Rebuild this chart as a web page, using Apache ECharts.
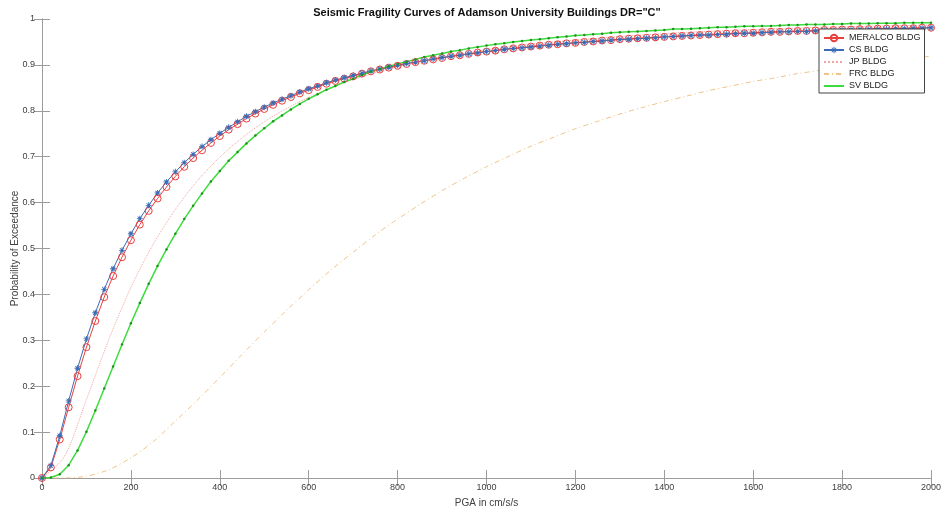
<!DOCTYPE html>
<html>
<head>
<meta charset="utf-8">
<title>Seismic Fragility Curves</title>
<script src="https://cdn.jsdelivr.net/npm/echarts/dist/echarts.min.js"></script>
<style>
  html, body { margin: 0; padding: 0; background: #fff; }
  #chart { width: 944px; height: 515px; }
</style>
</head>
<body>
<div id="chart"></div>
<script>
// PGA values (cm/s/s) where the marked curves were sampled
const pgaFine = [
  0, 20, 40, 60, 80, 100, 120, 140, 160, 180,
  200, 220, 240, 260, 280, 300, 320, 340, 360, 380,
  400, 420, 440, 460, 480, 500, 520, 540, 560, 580,
  600, 620, 640, 660, 680, 700, 720, 740, 760, 780,
  800, 820, 840, 860, 880, 900, 920, 940, 960, 980,
  1000, 1020, 1040, 1060, 1080, 1100, 1120, 1140, 1160, 1180,
  1200, 1220, 1240, 1260, 1280, 1300, 1320, 1340, 1360, 1380,
  1400, 1420, 1440, 1460, 1480, 1500, 1520, 1540, 1560, 1580,
  1600, 1620, 1640, 1660, 1680, 1700, 1720, 1740, 1760, 1780,
  1800, 1820, 1840, 1860, 1880, 1900, 1920, 1940, 1960, 1980,
  2000
];
// coarser sampling for the plain dotted / dash-dot curves
const pgaCoarse = [
  0, 50, 100, 150, 200, 250, 300, 350, 400, 450,
  500, 550, 600, 650, 700, 750, 800, 850, 900, 950,
  1000, 1050, 1100, 1150, 1200, 1250, 1300, 1350, 1400, 1450,
  1500, 1550, 1600, 1650, 1700, 1750, 1800, 1850, 1900, 1950,
  2000
];

const meralco = [
  0, 0.023, 0.084, 0.154, 0.222, 0.285, 0.342, 0.394, 0.440, 0.481,
  0.518, 0.552, 0.582, 0.609, 0.634, 0.657, 0.678, 0.697, 0.714, 0.730,
  0.745, 0.759, 0.771, 0.783, 0.794, 0.804, 0.813, 0.822, 0.830, 0.838,
  0.845, 0.852, 0.859, 0.865, 0.870, 0.875, 0.881, 0.886, 0.890, 0.894,
  0.898, 0.902, 0.906, 0.909, 0.912, 0.915, 0.919, 0.921, 0.924, 0.927,
  0.929, 0.931, 0.934, 0.936, 0.938, 0.940, 0.942, 0.944, 0.945, 0.947,
  0.948, 0.950, 0.951, 0.953, 0.954, 0.956, 0.957, 0.958, 0.959, 0.960,
  0.961, 0.962, 0.963, 0.964, 0.965, 0.966, 0.967, 0.968, 0.969, 0.969,
  0.970, 0.971, 0.972, 0.972, 0.973, 0.974, 0.974, 0.975, 0.976, 0.976,
  0.977, 0.977, 0.978, 0.978, 0.979, 0.979, 0.980, 0.980, 0.980, 0.981,
  0.981
];

const cs = [
  0, 0.027, 0.092, 0.168, 0.239, 0.303, 0.360, 0.411, 0.456, 0.496,
  0.532, 0.565, 0.594, 0.621, 0.645, 0.667, 0.687, 0.705, 0.722, 0.737,
  0.751, 0.764, 0.776, 0.788, 0.798, 0.808, 0.817, 0.825, 0.833, 0.841,
  0.848, 0.854, 0.861, 0.867, 0.872, 0.877, 0.882, 0.887, 0.891, 0.895,
  0.899, 0.903, 0.906, 0.909, 0.913, 0.916, 0.919, 0.921, 0.924, 0.926,
  0.929, 0.931, 0.934, 0.936, 0.937, 0.939, 0.941, 0.943, 0.945, 0.946,
  0.948, 0.949, 0.951, 0.952, 0.954, 0.955, 0.956, 0.957, 0.958, 0.959,
  0.961, 0.962, 0.963, 0.964, 0.965, 0.965, 0.966, 0.967, 0.968, 0.969,
  0.969, 0.970, 0.971, 0.972, 0.972, 0.973, 0.973, 0.974, 0.975, 0.975,
  0.976, 0.976, 0.977, 0.977, 0.978, 0.978, 0.979, 0.979, 0.980, 0.980,
  0.981
];

const jp = [
  0, 0.046, 0.171, 0.301, 0.415, 0.509, 0.585, 0.648, 0.699, 0.741,
  0.776, 0.805, 0.829, 0.850, 0.868, 0.883, 0.896, 0.907, 0.917, 0.925,
  0.933, 0.939, 0.945, 0.950, 0.954, 0.958, 0.962, 0.965, 0.968, 0.971,
  0.973, 0.975, 0.977, 0.979, 0.980, 0.982, 0.983, 0.984, 0.985, 0.986,
  0.987
];

const frc = [
  0, 0.000, 0.004, 0.018, 0.044, 0.079, 0.124, 0.170, 0.219, 0.269,
  0.318, 0.365, 0.410, 0.453, 0.492, 0.530, 0.564, 0.596, 0.626, 0.653,
  0.678, 0.701, 0.723, 0.742, 0.761, 0.777, 0.793, 0.807, 0.820, 0.832,
  0.844, 0.854, 0.864, 0.872, 0.881, 0.888, 0.895, 0.902, 0.908, 0.914,
  0.919
];

const sv = [
  0, 0.001, 0.008, 0.028, 0.060, 0.101, 0.147, 0.195, 0.243, 0.291,
  0.337, 0.381, 0.423, 0.462, 0.498, 0.532, 0.564, 0.593, 0.620, 0.646,
  0.669, 0.691, 0.710, 0.729, 0.746, 0.762, 0.777, 0.790, 0.803, 0.815,
  0.826, 0.836, 0.846, 0.854, 0.863, 0.870, 0.878, 0.885, 0.891, 0.897,
  0.902, 0.907, 0.912, 0.917, 0.921, 0.925, 0.929, 0.932, 0.936, 0.939,
  0.942, 0.945, 0.947, 0.950, 0.952, 0.954, 0.956, 0.958, 0.960, 0.962,
  0.964, 0.965, 0.967, 0.968, 0.970, 0.971, 0.972, 0.973, 0.974, 0.975,
  0.976, 0.978, 0.978, 0.979, 0.980, 0.981, 0.982, 0.982, 0.983, 0.984,
  0.984, 0.985, 0.985, 0.986, 0.987, 0.987, 0.988, 0.988, 0.988, 0.989,
  0.989, 0.990, 0.990, 0.990, 0.991, 0.991, 0.991, 0.992, 0.992, 0.992,
  0.992
];

const seriesNames = ["MERALCO BLDG", "CS BLDG", "JP BLDG", "FRC BLDG", "SV BLDG"];

const font = "'Liberation Sans', Arial, Helvetica, sans-serif";
const axisGray = "#9c9c9c";
const labelGray = "#404040";
// matlab style '*' marker
const asterisk = "path://M-0.15,-1L0.15,-1L0.15,1L-0.15,1Z" +
  "M-1,-0.15L1,-0.15L1,0.15L-1,0.15Z" +
  "M-0.601,-0.813L0.813,0.601L0.601,0.813L-0.813,-0.601Z" +
  "M0.601,-0.813L0.813,-0.601L-0.601,0.813L-0.813,0.601Z";
const noMarker = { color: "rgba(0,0,0,0)", borderWidth: 0 };

function pairs(xs, ys) {
  return xs.map((x, i) => [x, ys[i]]);
}

let myChart = echarts.init(document.getElementById("chart"));

// the box round the plot has ticks on all four sides
function boxAxis(extra) {
  return Object.assign({
    type: "value",
    axisLine: { show: true, lineStyle: { color: axisGray, width: 1 } },
    axisTick: { show: true, inside: true, length: 8, lineStyle: { color: axisGray } },
    splitLine: { show: false },
    axisLabel: { show: false }
  }, extra);
}

let option = {
  animation: false,
  backgroundColor: "#fff",
  title: {
    text: 'Seismic Fragility Curves of Adamson University Buildings DR="C"',
    left: 487,
    top: 7,
    padding: 0,
    textAlign: "center",
    textStyle: { fontSize: 11, fontWeight: "bold", color: "#111", fontFamily: font }
  },
  legend: {
    orient: "vertical",
    left: 819,
    top: 29,
    padding: [4, 4, 2, 4],
    itemGap: 2,
    itemWidth: 20,
    itemHeight: 8,
    backgroundColor: "#fff",
    borderColor: "#444",
    borderWidth: 1,
    borderRadius: 0,
    selectedMode: false,
    textStyle: { fontSize: 9, color: "#222", fontFamily: font, lineHeight: 10 },
    data: [
      { name: seriesNames[0] },
      { name: seriesNames[1] },
      { name: seriesNames[2], itemStyle: noMarker },
      { name: seriesNames[3], itemStyle: noMarker },
      { name: seriesNames[4], itemStyle: noMarker }
    ]
  },
  grid: { left: 42, right: 13, top: 19, bottom: 37, containLabel: false, outerBoundsMode: "none" },
  xAxis: [
    boxAxis({
      min: 0, max: 2000, interval: 200, position: "bottom",
      axisLabel: { show: true, color: labelGray, fontSize: 9, margin: 5, fontFamily: font,
        formatter: (v) => String(v) },
      name: "PGA in cm/s/s",
      nameLocation: "middle",
      nameGap: 20,
      nameMoveOverlap: false,
      nameTextStyle: { color: labelGray, fontSize: 10, fontFamily: font }
    }),
    boxAxis({ min: 0, max: 2000, interval: 200, position: "top" })
  ],
  yAxis: [
    boxAxis({
      min: 0, max: 1, interval: 0.1, position: "left",
      axisLabel: { show: true, color: labelGray, fontSize: 9, margin: 7, fontFamily: font },
      name: "Probability of Exceedance",
      nameLocation: "middle",
      nameGap: 22,
      nameMoveOverlap: false,
      nameTextStyle: { color: labelGray, fontSize: 10, fontFamily: font }
    }),
    boxAxis({ min: 0, max: 1, interval: 0.1, position: "right" })
  ],
  series: [
    {
      name: seriesNames[0],
      type: "line",
      data: pairs(pgaFine, meralco),
      symbol: "circle",
      symbolSize: 7,
      showAllSymbol: true,
      itemStyle: { color: "rgba(255,255,255,0)", borderColor: "#e8403f", borderWidth: 1 },
      lineStyle: { color: "#e8403f", width: 1 }
    },
    {
      name: seriesNames[1],
      type: "line",
      data: pairs(pgaFine, cs),
      symbol: asterisk,
      symbolSize: 6,
      showAllSymbol: true,
      itemStyle: { color: "#3a6cb5" },
      lineStyle: { color: "#3a6cb5", width: 1 }
    },
    {
      name: seriesNames[2],
      type: "line",
      data: pairs(pgaCoarse, jp),
      symbol: "none",
      smooth: 0.3,
      itemStyle: { color: "#f4a3a3" },
      lineStyle: { color: "#f4a3a3", width: 1, type: "dotted" }
    },
    {
      name: seriesNames[3],
      type: "line",
      data: pairs(pgaCoarse, frc),
      symbol: "none",
      smooth: 0.3,
      itemStyle: { color: "#f0c388" },
      lineStyle: { color: "#f0c388", width: 1, type: [5, 3, 1, 3] }
    },
    {
      name: seriesNames[4],
      type: "line",
      data: pairs(pgaFine, sv),
      symbol: "circle",
      symbolSize: 2.5,
      showAllSymbol: true,
      itemStyle: { color: "#1f8f1f" },
      lineStyle: { color: "#3ddc3d", width: 1.5 }
    }
  ]
};

myChart.setOption(option);
</script>
</body>
</html>
